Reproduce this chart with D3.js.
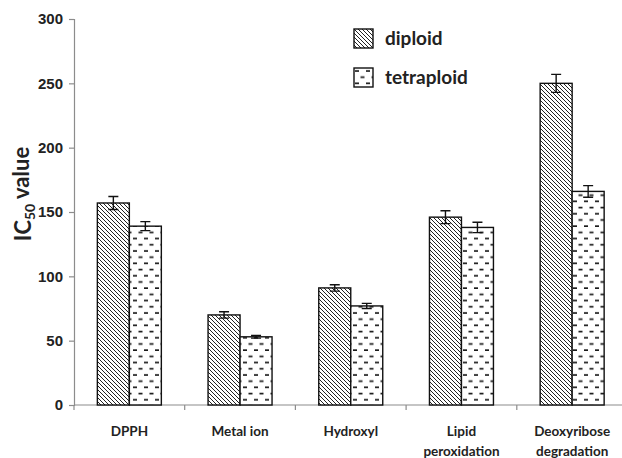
<!DOCTYPE html>
<html>
<head>
<meta charset="utf-8">
<script src="https://cdn.jsdelivr.net/npm/d3@7"></script>
<style>
	body { margin: 0; background: #fff; }
	svg { display: block; font-family: Lato, "Open Sans", sans-serif; }
	.axis path, .axis line { stroke: #8c8c8c; stroke-width: 1.2; }
	.axis text { font-size: 13.5px; font-weight: bold; fill: #222; }
	.yaxis text { font-size: 15px; }
</style>
</head>
<body>
<svg id="chart" width="622" height="458"></svg>
<script>
// data
var categories = [["DPPH"], ["Metal ion"], ["Hydroxyl"], ["Lipid", "peroxidation"], ["Deoxyribose", "degradation"]];
var series = ["diploid", "tetraploid"];
var diploid = [157, 70, 91, 146, 250];
var diploid_err = [5, 2.5, 2.5, 5, 7];
var tetraploid = [139, 53, 77, 138, 166];
var tetraploid_err = [3.5, 1, 2, 4, 4.5];
var y_ticks = [0, 50, 100, 150, 200, 250, 300];

(function(){
	var svg = d3.select("#chart");
	var defs = svg.append("defs");

	// diagonal hatch for diploid
	var p1 = defs.append("pattern").attr("id", "hatch")
		.attr("patternUnits", "userSpaceOnUse").attr("width", 4).attr("height", 4);
	p1.append("rect").attr("width", 4).attr("height", 4).attr("fill", "#fff");
	p1.append("path").attr("d", "M-1,-1L5,5M-1,3L1,5M3,-1L5,1")
		.attr("stroke", "#222").attr("stroke-width", 1);

	// dashes for tetraploid
	var p2 = defs.append("pattern").attr("id", "dashes")
		.attr("patternUnits", "userSpaceOnUse").attr("width", 11).attr("height", 12.4);
	p2.append("rect").attr("width", 11).attr("height", 12.4).attr("fill", "#fff");
	p2.append("path").attr("d", "M1,3H5M6.5,9.2H10.5")
		.attr("stroke", "#1a1a1a").attr("stroke-width", 1.8);

	var fills = {diploid: "url(#hatch)", tetraploid: "url(#dashes)"};

	var m_left = 74, m_top = 19, m_bottom = 405, step = 110.7;
	var x = d3.scaleBand().domain(d3.range(categories.length))
		.range([m_left, m_left + step * categories.length]).padding(0);
	var xs = d3.scaleBand().domain(series).range([0, x.bandwidth()]).paddingOuter(0.73).paddingInner(0);
	var y = d3.scaleLinear().domain([0, 300]).range([m_bottom, m_top]);

	// y axis
	svg.append("g").attr("class", "axis yaxis")
		.attr("transform", "translate(" + m_left + ",0)")
		.call(d3.axisLeft(y).tickValues(y_ticks).tickSize(5).tickPadding(6).tickSizeOuter(5));

	// x axis
	var xa = svg.append("g").attr("class", "axis");
	xa.append("line").attr("x1", m_left).attr("x2", 622).attr("y1", m_bottom).attr("y2", m_bottom);
	xa.selectAll(".tk").data(d3.range(categories.length + 1)).enter().append("line")
		.attr("x1", function(d){ return m_left + d * x.step(); })
		.attr("x2", function(d){ return m_left + d * x.step(); })
		.attr("y1", m_bottom).attr("y2", m_bottom + 5);
	var labels = xa.selectAll(".lab").data(categories).enter().append("text")
		.attr("text-anchor", "middle")
		.attr("transform", function(d, i){ return "translate(" + (x(i) + x.bandwidth() / 2) + ",436)"; });
	labels.selectAll("tspan").data(function(d){ return d; }).enter().append("tspan")
		.attr("x", 0).attr("dy", function(d, i){ return i ? 20 : 0; })
		.text(function(d){ return d; });

	// bars
	var rows = [
		{name: "diploid", v: diploid, e: diploid_err},
		{name: "tetraploid", v: tetraploid, e: tetraploid_err}
	];
	rows.forEach(function(s){
		var g = svg.append("g");
		g.selectAll("rect").data(s.v).enter().append("rect")
			.attr("x", function(d, i){ return x(i) + xs(s.name); })
			.attr("y", function(d){ return y(d); })
			.attr("width", xs.bandwidth())
			.attr("height", function(d){ return y(0) - y(d); })
			.attr("fill", fills[s.name])
			.attr("stroke", "#111").attr("stroke-width", 1.4);
		var eb = g.selectAll(".err").data(s.v).enter().append("g")
			.attr("transform", function(d, i){ return "translate(" + (x(i) + xs(s.name) + xs.bandwidth() / 2) + ",0)"; });
		eb.append("path")
			.attr("d", function(d, i){
				var t = y(d + s.e[i]), b = y(d - s.e[i]);
				return "M0," + t + "V" + b + "M-5," + t + "H5M-5," + b + "H5";
			})
			.attr("stroke", "#111").attr("stroke-width", 1.4).attr("fill", "none");
	});

	// y label
	svg.append("text")
		.attr("transform", "translate(31,194) rotate(-90)")
		.attr("text-anchor", "middle")
		.style("font-size", "22px").style("font-weight", "bold").attr("fill", "#222")
		.call(function(t){
			t.append("tspan").text("IC");
			t.append("tspan").text("50").style("font-size", "14px").attr("dy", "0.3em");
			t.append("tspan").text(" value").attr("dy", "-0.3em");
		});

	// legend
	var lg = svg.append("g").attr("transform", "translate(354,29)");
	var li = lg.selectAll("g").data(series).enter().append("g")
		.attr("transform", function(d, i){ return "translate(0," + i * 39 + ")"; });
	li.append("rect").attr("width", 19).attr("height", 19)
		.attr("fill", function(d){ return fills[d]; })
		.attr("stroke", "#111").attr("stroke-width", 1.4);
	li.append("text").attr("x", 31).attr("y", 16)
		.style("font-size", "19px").style("font-weight", "bold").attr("fill", "#222")
		.text(function(d){ return d; });
})();
</script>
</body>
</html>
